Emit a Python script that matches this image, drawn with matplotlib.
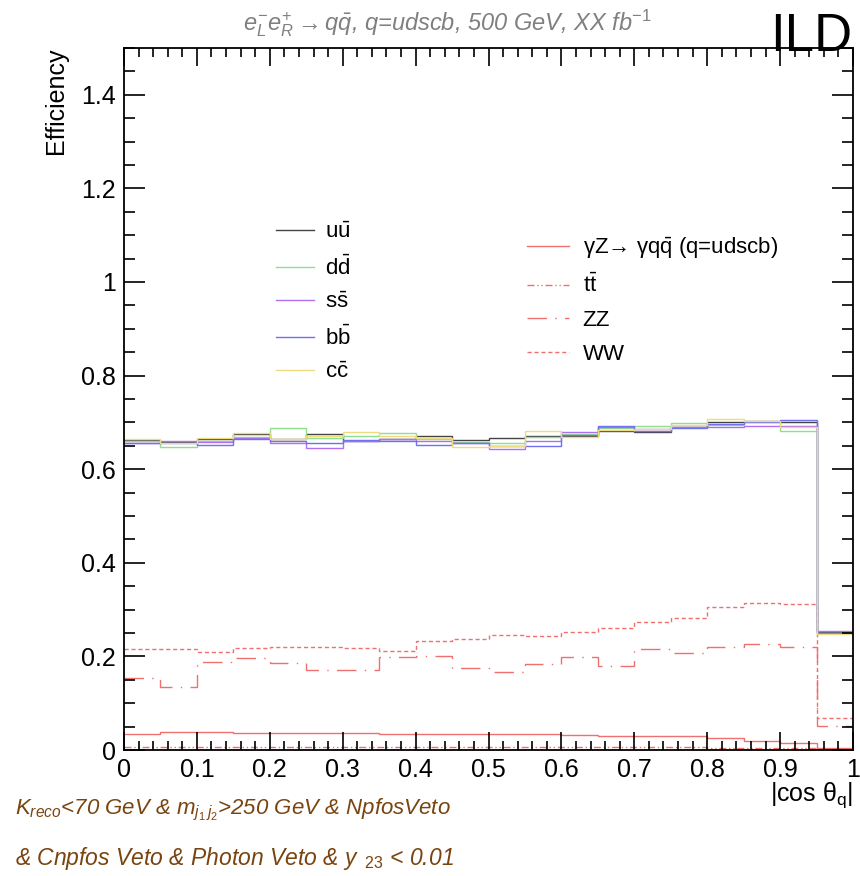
import numpy as np
import matplotlib.pyplot as plt
from matplotlib.ticker import MultipleLocator, FormatStrFormatter
from matplotlib.lines import Line2D

plt.rcParams.update({
    "font.family": ["Liberation Sans", "DejaVu Sans"],
    "mathtext.fontset": "custom",
    "mathtext.rm": "Liberation Sans",
    "mathtext.it": "Liberation Sans:italic",
    "mathtext.bf": "Liberation Sans:bold",
})

# |cos theta_q| binning, 20 bins
edges = np.linspace(0.0, 1.0, 21)

# signal efficiencies per bin
eff_uu = [0.662, 0.658, 0.664, 0.676, 0.664, 0.675, 0.660, 0.664, 0.670, 0.662,
          0.666, 0.670, 0.670, 0.682, 0.679, 0.690, 0.700, 0.704, 0.700, 0.252]
eff_dd = [0.660, 0.648, 0.660, 0.668, 0.687, 0.666, 0.670, 0.677, 0.664, 0.658,
          0.656, 0.668, 0.675, 0.688, 0.693, 0.698, 0.695, 0.700, 0.682, 0.250]
eff_ss = [0.657, 0.661, 0.658, 0.666, 0.656, 0.645, 0.660, 0.664, 0.660, 0.656,
          0.643, 0.660, 0.679, 0.690, 0.685, 0.690, 0.690, 0.693, 0.693, 0.254]
eff_bb = [0.655, 0.655, 0.652, 0.664, 0.660, 0.657, 0.662, 0.660, 0.652, 0.656,
          0.650, 0.650, 0.674, 0.692, 0.682, 0.688, 0.697, 0.700, 0.705, 0.250]
eff_cc = [0.664, 0.656, 0.667, 0.678, 0.664, 0.672, 0.680, 0.670, 0.666, 0.647,
          0.650, 0.681, 0.668, 0.684, 0.686, 0.694, 0.707, 0.702, 0.690, 0.248]

# background efficiencies per bin
eff_gz = [0.034, 0.039, 0.039, 0.036, 0.036, 0.036, 0.036, 0.034, 0.034, 0.034,
          0.034, 0.034, 0.032, 0.029, 0.029, 0.029, 0.025, 0.020, 0.016, 0.004]
eff_tt = [0.006, 0.006, 0.006, 0.006, 0.006, 0.006, 0.006, 0.006, 0.006, 0.006,
          0.006, 0.006, 0.006, 0.006, 0.006, 0.006, 0.005, 0.005, 0.005, 0.002]
eff_zz = [0.154, 0.134, 0.187, 0.197, 0.186, 0.170, 0.171, 0.199, 0.200, 0.175,
          0.166, 0.184, 0.199, 0.180, 0.216, 0.207, 0.220, 0.227, 0.220, 0.051]
eff_ww = [0.216, 0.216, 0.209, 0.218, 0.221, 0.221, 0.219, 0.211, 0.232, 0.238,
          0.245, 0.243, 0.252, 0.261, 0.273, 0.282, 0.305, 0.314, 0.313, 0.068]

sig_labels = [r"u$\mathrm{\bar{u}}$", r"d$\mathrm{\bar{d}}$", r"s$\mathrm{\bar{s}}$",
              r"b$\mathrm{\bar{b}}$", r"c$\mathrm{\bar{c}}$"]
bkg_labels = [r"γZ→ γq$\mathrm{\bar{q}}$ (q=udscb)",
              r"t$\mathrm{\bar{t}}$", "ZZ", "WW"]

sig_colors = ["#444444", "#8ee08e", "#b070f0", "#7070f0", "#f0dc80"]
red = "#f07070"
bkg_styles = ["-", (0, (5, 2, 1, 2, 1, 2)), (0, (14, 6, 1, 6)), (0, (3, 2))]

fig = plt.figure(figsize=(8.6, 8.76), dpi=100)
ax = fig.add_axes([124 / 860, 1 - 750 / 876, 729 / 860, 702 / 876])

bkg_handles = []
for vals, ls in zip([eff_gz, eff_tt, eff_zz, eff_ww], bkg_styles):
    ax.stairs(vals, edges, baseline=None, color=red, lw=1.0, linestyle=ls)
    bkg_handles.append(Line2D([], [], color=red, lw=1.0, linestyle=ls))

sig_handles = []
for vals, c in zip([eff_uu, eff_dd, eff_ss, eff_bb, eff_cc], sig_colors):
    ax.stairs(vals, edges, baseline=None, color=c, lw=1.0)
    sig_handles.append(Line2D([], [], color=c, lw=1.0))

ax.set_xlim(0, 1)
ax.set_ylim(0, 1.5)
ax.xaxis.set_major_locator(MultipleLocator(0.1))
ax.xaxis.set_minor_locator(MultipleLocator(0.02))
ax.yaxis.set_major_locator(MultipleLocator(0.2))
ax.yaxis.set_minor_locator(MultipleLocator(0.05))
ax.xaxis.set_major_formatter(FormatStrFormatter("%g"))
ax.yaxis.set_major_formatter(FormatStrFormatter("%g"))
ax.tick_params(which="both", direction="in", top=True, right=True,
               labelsize=18, width=1.2)
ax.tick_params(axis="x", which="major", length=13, pad=6)
ax.tick_params(axis="x", which="minor", length=6.5)
ax.tick_params(axis="y", which="major", length=15, pad=6)
ax.tick_params(axis="y", which="minor", length=8)
for sp in ax.spines.values():
    sp.set_linewidth(1.3)

leg1 = ax.legend(sig_handles, sig_labels, loc="upper left",
                 bbox_to_anchor=(276 / 860, 1 - 222 / 876),
                 bbox_transform=fig.transFigure, frameon=False, fontsize=16,
                 borderpad=0, borderaxespad=0, handlelength=1.7,
                 handletextpad=0.5, labelspacing=0.56)
ax.add_artist(leg1)
ax.legend(bkg_handles, bkg_labels, loc="upper left",
          bbox_to_anchor=(527 / 860, 1 - 236 / 876),
          bbox_transform=fig.transFigure, frameon=False, fontsize=16,
          borderpad=0, borderaxespad=0, handlelength=1.9,
          handletextpad=0.6, labelspacing=0.58)

fig.text(447 / 860, 1 - 23 / 876,
         r"$e^{-}_{L}e^{+}_{R}\rightarrow q\bar{q}$, q=udscb, 500 GeV, XX fb$^{-1}$",
         color="#808080", style="italic", fontsize=17, ha="center", va="center")
fig.text(852 / 860, 1 - 12 / 876, "ILD", fontsize=38, ha="right", va="top")
fig.text(56 / 860, 1 - 48 / 876, "Efficiency", rotation=90, fontsize=18,
         ha="center", va="top")
fig.text(853 / 860, 1 - 795 / 876, r"|cos θ$_{\mathrm{q}}$|", fontsize=18,
         ha="right", va="center")

brown = "#7a4410"
fig.text(15 / 860, 1 - 810 / 876,
         r"$K_{reco}$<70 GeV & $m_{j_{1}\,j_{2}}$>250 GeV & NpfosVeto",
         color=brown, style="italic", fontsize=16, ha="left", va="center")
fig.text(15 / 860, 1 - 858 / 876,
         r"& Cnpfos Veto & Photon Veto & $y_{\ \ 23}$ < 0.01",
         color=brown, style="italic", fontsize=16.5, ha="left", va="center")

fig.savefig("out.png", dpi=100)
